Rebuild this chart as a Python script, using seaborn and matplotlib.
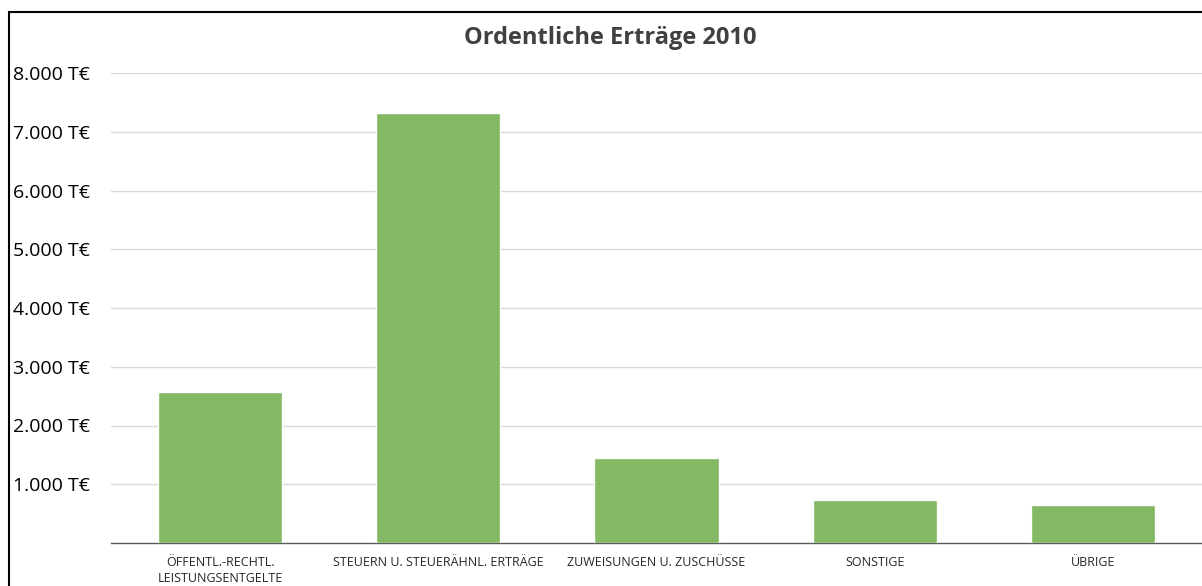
import pandas as pd
import matplotlib
matplotlib.use('Agg')
import matplotlib.pyplot as plt
import matplotlib.ticker as mticker
from matplotlib.patches import Rectangle
import seaborn as sns

# data (values in T€)
kategorien = ['ÖFFENTL.-RECHTL.\nLEISTUNGSENTGELTE',
              'STEUERN U. STEUERÄHNL. ERTRÄGE',
              'ZUWEISUNGEN U. ZUSCHÜSSE',
              'SONSTIGE',
              'ÜBRIGE']
ertraege = [2570, 7320, 1450, 730, 640]
y_ticks = [1000, 2000, 3000, 4000, 5000, 6000, 7000, 8000]

df = pd.DataFrame({'Kategorie': kategorien, 'Ertrag': ertraege})

sns.set_theme(style='white')
plt.rcParams['font.family'] = ['Open Sans', 'DejaVu Sans']

fig = plt.figure(figsize=(12.02, 5.86), dpi=100)
ax = fig.add_axes([111 / 1202, 1 - 543 / 586, 1 - 111 / 1202, (543 - 73) / 586])

sns.barplot(data=df, x='Kategorie', y='Ertrag', color='#7db55b', alpha=0.95,
            width=0.57, saturation=1, ax=ax, zorder=3)

ax.set_ylim(0, 8000)
ax.set_xlim(-0.5, 4.5)
ax.set_yticks(y_ticks)
ax.yaxis.set_major_formatter(mticker.FuncFormatter(
    lambda v, p: '{:,.0f} T€'.format(v).replace(',', '.')))
ax.grid(axis='y', color='#d9d9d9', linewidth=1, zorder=0)
ax.set_axisbelow(True)
for s in ['top', 'right', 'left']:
    ax.spines[s].set_visible(False)
ax.spines['bottom'].set_color('#595959')
ax.spines['bottom'].set_linewidth(1)
ax.tick_params(axis='y', length=0, pad=15, labelsize=14, labelcolor='black')
ax.tick_params(axis='x', length=0, pad=9, labelsize=9, labelcolor='#262626')
ax.set_xlabel('')
ax.set_ylabel('')
for lbl in ax.get_xticklabels():
    lbl.set_linespacing(1.35)

fig.text(610 / 1202, 1 - 38 / 586, 'Ordentliche Erträge 2010', ha='center', va='center',
         fontsize=17, fontweight='bold', color='#404040')

# border of the chart area (cropped at right and bottom)
fig.patches.append(Rectangle((9 / 1202, -0.1), 1.2, 1 - 12 / 586 + 0.1,
                             transform=fig.transFigure, fill=False,
                             edgecolor='black', linewidth=1.5))

fig.savefig('out.png', dpi=100)
